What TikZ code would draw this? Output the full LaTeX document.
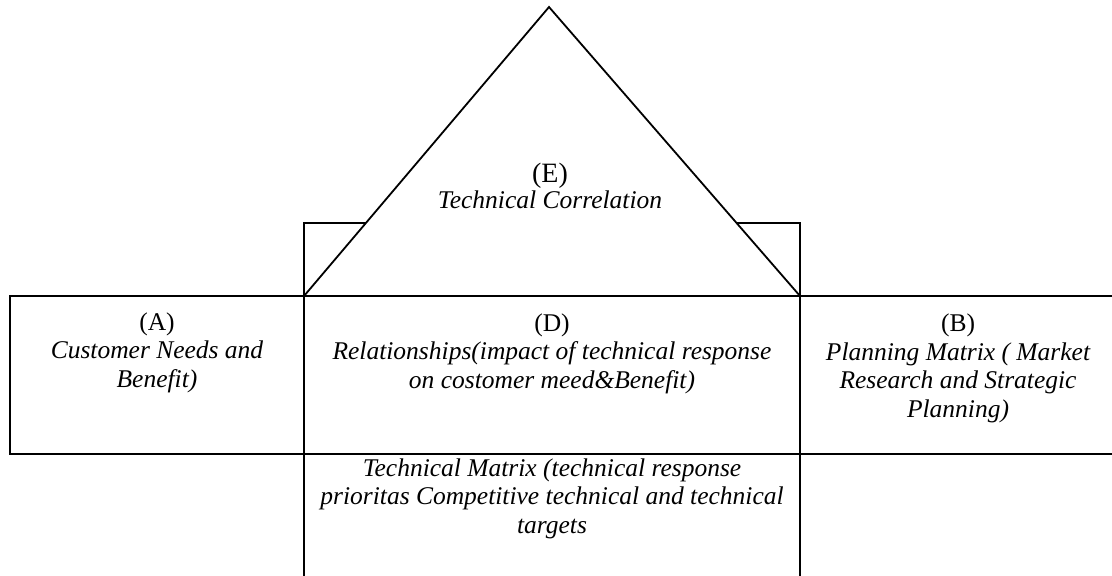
\documentclass[tikz,border=0pt]{standalone}
\usepackage{fontspec}
\setmainfont{Liberation Serif}
\usetikzlibrary{positioning}
\tikzstyle{part} = [line width=0.9pt, draw=black, line join=miter]
\tikzstyle{roof} = [line width=0.9pt, draw=black, fill=white]
\tikzstyle{caption} = [text centered, align=center, inner sep=0pt, anchor=base, font=\fontsize{12.75}{14.2}\selectfont]
\tikzstyle{roof_caption} = [text centered, align=center, inner sep=0pt, anchor=base, font=\fontsize{14}{13}\selectfont]
\begin{document}
\begin{tikzpicture}[x=0.5pt, y=-0.5pt]
		\useasboundingbox (0,0) rectangle (1112,575);
		% walls behind the roof
		\draw [part] (304,223) rectangle (800,296);
		% roof
		\draw [roof] (304,296) -- (549,7) -- (800,296) -- cycle;
		% rooms
		\draw [part] (10,296) rectangle (304,454);
		\draw [part] (304,296) rectangle (800,454);
		\draw [part] (800,296) -- (1120,296);
		\draw [part] (800,454) -- (1120,454);
		\draw [part] (304,454) -- (304,585);
		\draw [part] (800,454) -- (800,585);

		\node (e) [roof_caption] at (550,208) {(E)\\{\fontsize{12.75}{13}\selectfont\itshape Technical Correlation}};
		\node (a) [caption] at (157,387) {(A)\\\itshape Customer Needs and\\\itshape Benefit)};
		\node (d) [caption] at (552,388) {(D)\\\itshape Relationships(impact of technical response\\\itshape on costomer meed\&Benefit)};
		\node (b) [caption] at (958,417) {(B)\\\itshape Planning Matrix ( Market\\\itshape Research and Strategic\\\itshape Planning)};
		\node (c) [caption] at (552,533) {\itshape Technical Matrix (technical response\\\itshape prioritas Competitive technical and technical\\\itshape targets};
\end{tikzpicture}
\end{document}
